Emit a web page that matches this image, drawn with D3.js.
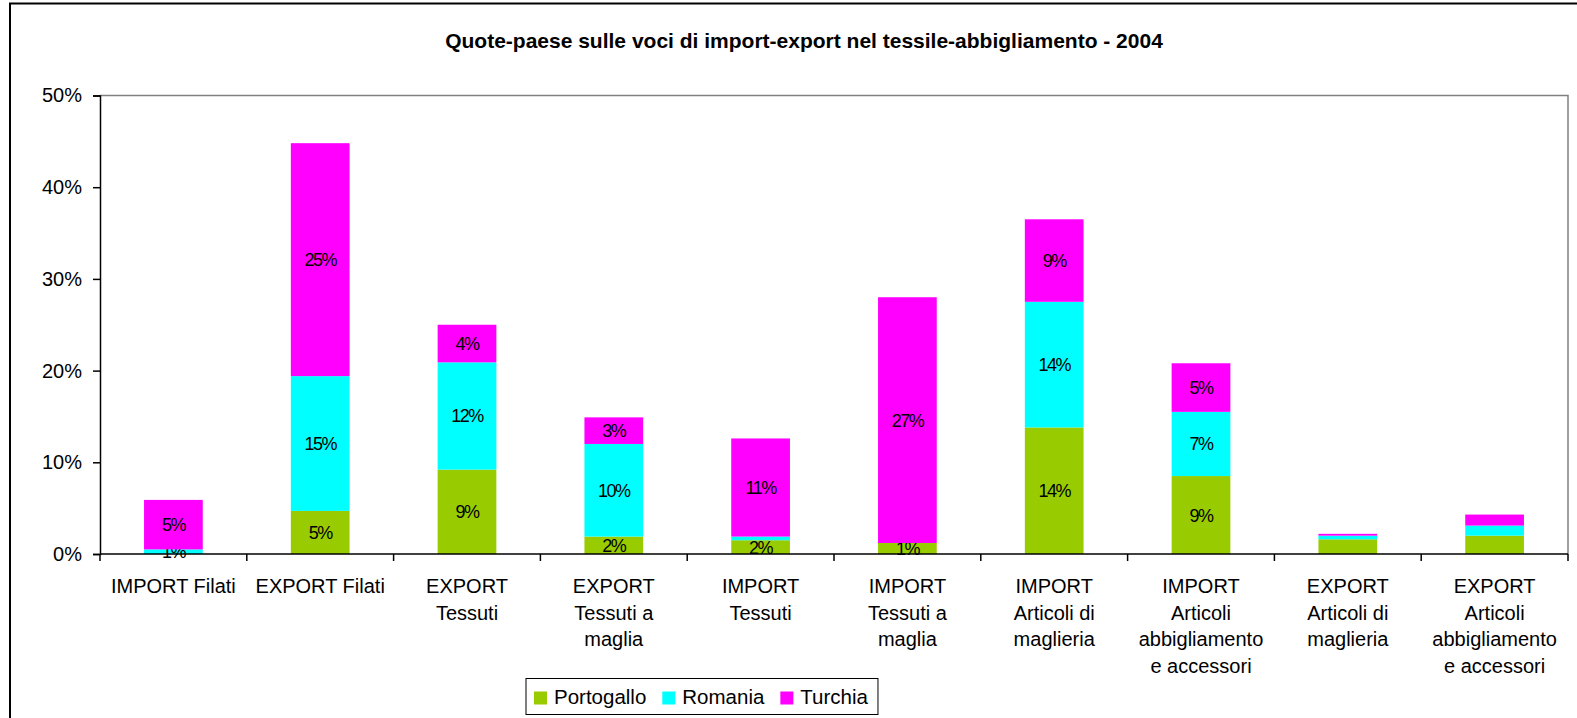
<!DOCTYPE html>
<html>
<head>
<meta charset="utf-8">
<script src="https://d3js.org/d3.v7.min.js"></script>
<style>
    body { margin: 0; background: #fff; }
    text { font-family: "Liberation Sans", Arial, sans-serif; fill: #000; }
    .title { font-size: 21px; font-weight: bold; }
    .tick text { font-size: 20px; }
    .catLabel { font-size: 20px; }
    .barLabel { font-size: 18px; letter-spacing: -1.5px; }
    .legendLabel { font-size: 20.5px; }
</style>
</head>
<body>
<script>
// data, in percent
const categories = ["IMPORT Filati", "EXPORT Filati", "EXPORT Tessuti", "EXPORT Tessuti a maglia",
    "IMPORT Tessuti", "IMPORT Tessuti a maglia", "IMPORT Articoli di maglieria",
    "IMPORT Articoli abbigliamento e accessori", "EXPORT Articoli di maglieria",
    "EXPORT Articoli abbigliamento e accessori"];
const seriesNames = ["Portogallo", "Romania", "Turchia"];
const seriesColors = ["#99cc00", "#00ffff", "#ff00ff"];
const portogallo = [0, 4.7, 9.2, 1.9, 1.5, 1.2, 13.8, 8.5, 1.6, 2.0];
const romania    = [0.5, 14.7, 11.7, 10.1, 0.4, 0, 13.7, 7.0, 0.4, 1.1];
const turchia    = [5.4, 25.4, 4.1, 2.9, 10.7, 26.8, 9.0, 5.3, 0.2, 1.2];
const showLabels = [true, true, true, true, true, true, true, true, false, false];
const yTicks = [0, 10, 20, 30, 40, 50];
const titleText = "Quote-paese sulle voci di import-export nel tessile-abbigliamento - 2004";

const W = 1577, H = 718;
const plot = {left: 100, right: 1568, top: 95.5, bottom: 554};

const rows = categories.map((c, i) => ({
    cat: c, i: i,
    Portogallo: portogallo[i], Romania: romania[i], Turchia: turchia[i]
}));
const stacked = d3.stack().keys(seriesNames)(rows);

const svg = d3.select('body').append('svg')
    .attr('width', W).attr('height', H);

// chart outer border (runs off the right/bottom edge)
svg.append('rect')
    .attr('x', 10).attr('y', 3.5)
    .attr('width', 1650).attr('height', 800)
    .attr('fill', 'none').attr('stroke', '#000').attr('stroke-width', 2);

svg.append('text').attr('class', 'title')
    .attr('x', 804).attr('y', 48)
    .attr('text-anchor', 'middle')
    .text(titleText);

const x = d3.scaleBand()
    .domain(categories)
    .range([plot.left, plot.right])
    .paddingInner(0.6).paddingOuter(0.3);
const y = d3.scaleLinear()
    .domain([0, 50])
    .range([plot.bottom, plot.top]);

// plot area border (grey top + right)
svg.append('path')
    .attr('d', `M${plot.left},${plot.top}H${plot.right}V${plot.bottom}`)
    .attr('fill', 'none').attr('stroke', '#808080').attr('stroke-width', 1.5);

// bars
const layer = svg.append('g').selectAll('g').data(stacked).enter()
    .append('g').attr('fill', (d, k) => seriesColors[k]);
layer.selectAll('rect').data(d => d).enter()
    .append('rect')
    .attr('x', d => x(d.data.cat))
    .attr('width', x.bandwidth())
    .attr('y', d => y(d[1]))
    .attr('height', d => y(d[0]) - y(d[1]));

// value labels (rounded to whole percent, zeros not shown)
layer.selectAll('text')
    .data(d => d.filter(s => showLabels[s.data.i] && Math.round(s[1] - s[0]) > 0))
    .enter()
    .append('text').attr('class', 'barLabel')
    .attr('x', d => x(d.data.cat) + x.bandwidth() / 2)
    .attr('y', d => (y(d[0]) + y(d[1])) / 2)
    .attr('dy', '0.36em')
    .attr('text-anchor', 'middle')
    .text(d => Math.round(d[1] - d[0]) + '%');

// y axis
const yAxis = svg.append('g')
    .attr('transform', `translate(${plot.left},0)`)
    .call(d3.axisLeft(y).tickValues(yTicks).tickSize(7).tickPadding(11).tickFormat(d => d + '%'));
yAxis.select('.domain').attr('stroke', '#000').attr('stroke-width', 1.5);
yAxis.selectAll('.tick line').attr('stroke', '#000').attr('stroke-width', 1.5);
yAxis.selectAll('.tick text').attr('font-family', null).attr('font-size', null);

// x axis line + ticks at category boundaries
svg.append('line')
    .attr('x1', plot.left).attr('x2', plot.right)
    .attr('y1', plot.bottom).attr('y2', plot.bottom)
    .attr('stroke', '#000').attr('stroke-width', 1.5);
const step = x.step();
const bounds = categories.map(c => x(c) + x.bandwidth() / 2 - step / 2).concat([plot.right]);
svg.append('g').selectAll('line').data(bounds).enter()
    .append('line')
    .attr('x1', d => d).attr('x2', d => d)
    .attr('y1', plot.bottom).attr('y2', plot.bottom + 7)
    .attr('stroke', '#000').attr('stroke-width', 1.5);

// category labels, wrapped
const maxW = 136;
categories.forEach(function(c) {
    const cxl = x(c) + x.bandwidth() / 2;
    const t = svg.append('text').attr('class', 'catLabel')
        .attr('x', cxl)
        .attr('y', 593)
        .attr('text-anchor', 'middle');
    const words = c.split(' ');
    let line = [];
    let ts = t.append('tspan').attr('x', cxl).attr('dy', 0);
    words.forEach(function(w) {
        line.push(w);
        ts.text(line.join(' '));
        if (ts.node().getComputedTextLength() > maxW && line.length > 1) {
            line.pop();
            ts.text(line.join(' '));
            line = [w];
            ts = t.append('tspan').attr('x', cxl)
                .attr('dy', 26.7).text(w);
        }
    });
});

// legend
const leg = svg.append('g');
const legX = 526, legY = 678.5, legH = 36;
let cx = legX + 8;
seriesNames.forEach(function(s, k) {
    leg.append('rect')
        .attr('x', cx).attr('y', legY + 13)
        .attr('width', 13).attr('height', 13)
        .attr('fill', seriesColors[k]);
    const t = leg.append('text').attr('class', 'legendLabel')
        .attr('x', cx + 20).attr('y', legY + 25)
        .text(s);
    cx += 20 + t.node().getComputedTextLength() + 16;
});
leg.insert('rect', ':first-child')
    .attr('x', legX).attr('y', legY)
    .attr('width', cx - legX - 6).attr('height', legH)
    .attr('fill', '#fff').attr('stroke', '#000').attr('stroke-width', 1);
</script>
</body>
</html>
